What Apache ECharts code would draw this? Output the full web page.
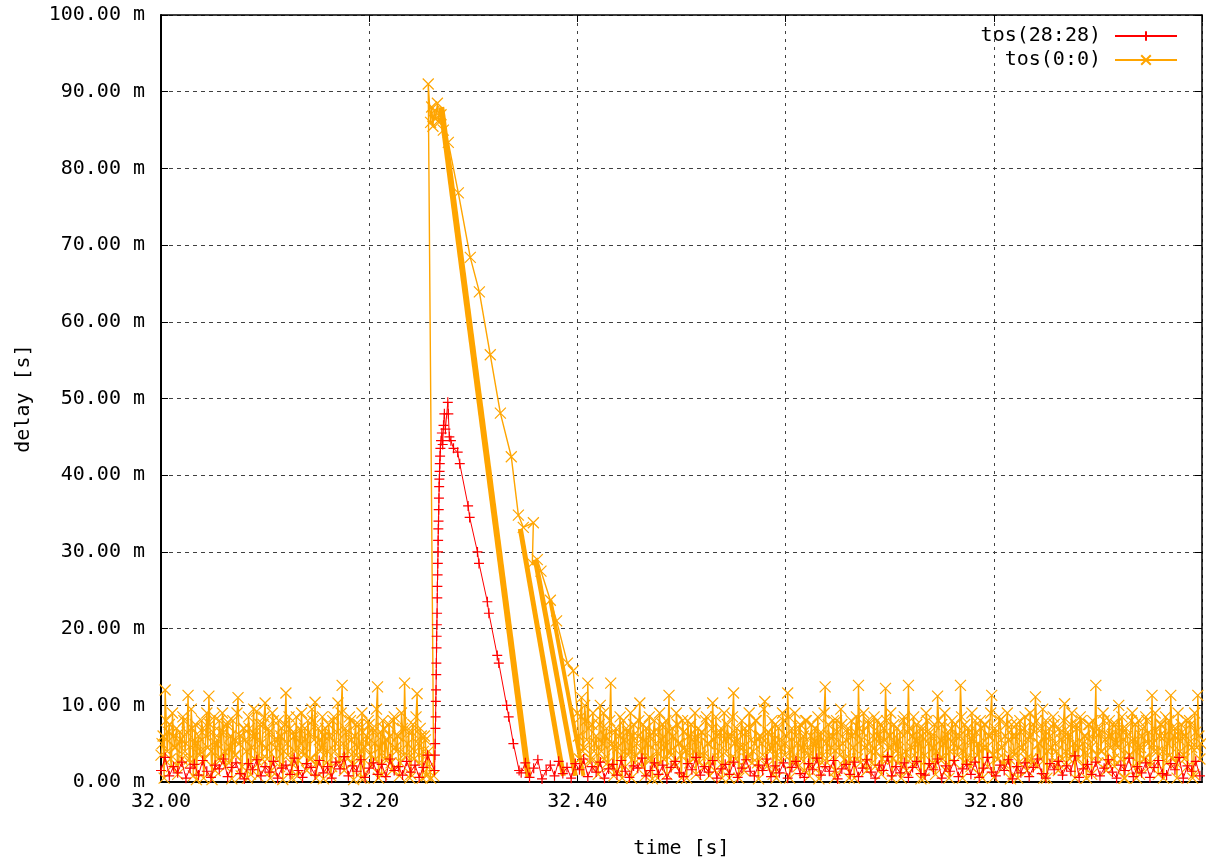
<!DOCTYPE html>
<html>
<head>
<meta charset="utf-8">
<title>delay</title>
<script src="https://cdn.jsdelivr.net/npm/echarts@6/dist/echarts.min.js"></script>
<style>
  html, body { margin: 0; padding: 0; background: #fff; }
  #chart { width: 1206px; height: 859px; }
</style>
</head>
<body>
<div id="chart"></div>
<script>
// tos(0:0) noise before the burst: even ms from 32.000 s, then odd ms from 32.001 s
const orangeBefore = [
  3.5, 6, 12, 4, 7.5, 2, 6, 4.5, 1, 6.5,
  3, 8, 5, 11.3, 2.5, 7, 5, 0.3, 6, 4,
  7, 3, 9, 11.2, 4, 6.5, 1.5, 5.5, 8, 3,
  6.5, 2, 7.8, 4.5, 0.4, 5.5, 3.5, 11, 6, 2,
  7, 4, 8.5, 1, 6, 3, 9.2, 2.5, 5, 7.5,
  10.3, 3, 6.5, 1.5, 8, 4.5, 5.5, 2, 7, 4,
  11.6, 3.5, 7, 0.5, 6, 8.5, 2.8, 5, 4, 7,
  1.5, 6.5, 3, 8, 10.4, 2.5, 5.5, 4.5, 0.4, 7,
  4, 6, 2, 8.5, 5, 10.3, 3, 12.6, 1.5, 6.5,
  4, 8, 2.5, 6, 3.5, 7.5, 0.5, 6.5, 4.5, 5,
  7.5, 2, 6.5, 3, 12.4, 4.5, 1, 7, 5.5, 3,
  6, 1.5, 8.5, 4, 6, 2.5, 7, 12.9, 3.5, 6.5,
  1, 7.5, 4, 11.5, 2.5, 6, 4, 5.5, 1, 2
];
const orangeBeforeOdd = [
  5, 0.5, 8, 6.5, 3, 9, 4.5, 7, 2.5, 5.5,
  8.5, 4, 6.5, 3, 9.5, 0.8, 7.5, 5, 3.5, 8,
  0.5, 6, 4.5, 7.5, 0.3, 8.5, 5, 3, 6.5, 9,
  4, 7.5, 2.5, 6, 8, 3.5, 9, 5, 0.8, 7,
  5.5, 0.5, 7, 4.5, 9.5, 6, 0.8, 7.5, 3, 8.5,
  4.5, 7, 0.5, 9, 5.5, 3, 8, 6, 0.3, 7.5,
  5, 8.5, 2.5, 6.5, 4, 0.8, 7, 9, 3.5, 5.5,
  8, 3, 9.5, 5.5, 0.5, 7, 4, 8.5, 6, 2.5,
  7.5, 0.8, 8, 4, 6.5, 2.5, 9, 5, 7, 3,
  8.5, 5.5, 0.3, 7.5, 4.5, 3, 9, 0.5, 6, 8,
  3.5, 7, 5, 9.5, 0.5, 6.5, 8, 3, 5.5, 7.5,
  2.5, 8, 4.5, 6, 0.8, 9, 3.5, 7, 5, 0.5,
  6.5, 3, 8.5, 5, 7, 0.5, 6, 0.8, 4, 0.5
];
// tos(0:0) around the burst: [time s, delay ms]
const orangeSpike = [
  [32.2620, 0.8], [32.2567, 91], [32.2590, 86], [32.2600, 88], [32.2612, 85.5],
  [32.2625, 87.5], [32.2640, 86.5], [32.2655, 88.5], [32.2670, 86], [32.2690, 87],
  [32.2712, 85], [32.2760, 83.4], [32.2856, 76.8], [32.2971, 68.4], [32.3058, 63.9],
  [32.3163, 55.7], [32.3260, 48.1], [32.3365, 42.4], [32.3433, 34.8], [32.3480, 33.2],
  [32.3577, 33.8], [32.3567, 28.5], [32.3615, 29], [32.3650, 27.5], [32.3740, 23.7],
  [32.3800, 21], [32.3904, 15.5], [32.3960, 14.5]
];
// drain lines of the queue after the burst: [start, end]
const orangeBand1 = [[32.2692, 88], [32.3530, 0.6]];
const orangeBand2 = [[32.3452, 33], [32.3865, 0.8]];
const orangeBand3 = [[32.3596, 29], [32.3980, 0.8]];
const orangeBand4 = [[32.3740, 23.7], [32.4058, 0.8]];
// tos(0:0) noise after the burst: even ms from 32.400 s, then odd ms from 32.401 s
const orangeAfter = [
  9, 3, 11, 4.5, 8, 12.9, 2.5, 7.5, 4, 6,
  1, 10, 5, 3, 7, 2, 12.9, 4.5, 6.5, 1.5,
  6, 3.5, 8, 2, 6.5, 4, 0.5, 7.5, 3.5, 6,
  10.3, 2, 5.5, 7, 3, 6, 0.4, 8, 4, 6.5,
  2.5, 7.5, 4.5, 1, 11.3, 3.5, 6, 2, 7.5, 5,
  0.5, 6.5, 4, 8, 2.5, 5.5, 4, 1, 7, 3.5,
  6.5, 2, 8.5, 5, 3, 10.3, 1.5, 6, 4, 7,
  2, 5.5, 7.5, 0.5, 6, 11.6, 3, 5.5, 4.5, 8,
  1.5, 6.5, 3.5, 7, 2.5, 5, 8, 0.4, 6, 3.5,
  10.5, 2, 6.5, 4.5, 1, 7.5, 3.5, 5.5, 2.5, 8,
  5, 11.6, 0.5, 7, 3, 6, 2, 7.5, 4.5, 1.5,
  8, 3.5, 6, 2, 7, 5, 0.4, 6.5, 3.5, 12.4,
  2.5, 6, 4.5, 8, 1.5, 6.5, 3.5, 7.5, 2, 5.5,
  7, 3, 6, 0.5, 8.5, 12.6, 2.5, 6.5, 4.5, 1.5,
  7.5, 4, 6, 2, 8, 5, 1, 7, 12.2, 3,
  6, 0.5, 7.5, 4, 2.5, 6.5, 3.5, 8.5, 1.5, 12.6,
  3, 6, 2, 7.5, 5, 0.4, 7, 3.5, 8, 2,
  6, 4.5, 1, 11.2, 3, 7.5, 5, 1.5, 6.5, 4,
  8, 2.5, 6, 4.5, 12.6, 0.5, 7.5, 3, 6.5, 2,
  5.5, 8, 3.5, 1, 7, 4.5, 7.5, 2, 6, 11.3,
  0.6, 6.5, 3, 8, 4.5, 2, 7.5, 5.5, 0.4, 6,
  3.5, 7.5, 2.5, 6.5, 4, 8.5, 1.5, 6, 3, 7.5,
  11.1, 2, 5, 7, 0.5, 8, 4, 6, 2.5, 7.5,
  4, 1.5, 6.5, 3, 10.2, 2, 6, 7.5, 3.5, 0.5,
  7, 4.5, 8, 2, 6, 3.5, 7.5, 1, 5.5, 12.6,
  2.5, 6.5, 4, 8, 1.5, 6, 4.5, 7.5, 2, 5,
  10, 3, 7, 0.5, 6, 3.5, 8, 2, 7.5, 4.5,
  1, 6, 3, 8.5, 5, 2, 11.3, 4, 6.5, 1,
  7.5, 4, 6, 2.5, 8, 11.3, 3, 7, 0.5, 5.5,
  7.5, 3.5, 6, 2, 8, 4.5, 1, 6.5, 11.3, 3
];
const orangeAfterOdd = [
  6, 8.5, 4, 10, 5.5, 7, 3, 9, 5, 2.5,
  7.5, 4, 9, 6, 2.5, 8, 5, 0.8, 7, 4.5,
  8.5, 0.5, 5.5, 7, 3.5, 9, 6, 2.5, 5, 8,
  4, 7.5, 0.8, 5, 8.5, 3, 6.5, 5, 0.5, 9,
  5.5, 3, 8, 6.5, 4, 7, 2.5, 9, 5, 3.5,
  8, 4.5, 0.5, 6, 7.5, 3, 9, 5.5, 2.5, 6.5,
  3.5, 8, 5, 0.8, 7, 5.5, 8.5, 3, 6.5, 0.5,
  9, 4, 6, 3, 8.5, 5, 7, 0.5, 6.5, 4.5,
  7, 3, 9, 5.5, 4, 8, 2.5, 6, 5, 9.5,
  2.5, 6.5, 4, 8, 5.5, 0.5, 7, 4.5, 9, 3.5,
  6, 8.5, 4, 2.5, 9, 5, 7, 3, 6, 8,
  4.5, 0.8, 7.5, 5, 3, 8.5, 6, 2.5, 9, 5,
  7.5, 3.5, 6, 0.5, 8, 4.5, 9.5, 5, 3, 6.5,
  0.5, 8, 4.5, 6.5, 3, 7, 5.5, 9, 2.5, 8,
  5, 2.5, 8.5, 4, 6, 7.5, 3, 5.5, 8, 4.5,
  9, 3, 5, 7, 5.5, 0.5, 8, 4, 6.5, 7,
  4.5, 8.5, 5.5, 3, 7, 6, 0.5, 9, 5, 6.5,
  2.5, 7.5, 4, 8, 5.5, 3, 9, 6, 0.5, 7,
  5, 7.5, 3.5, 6, 8.5, 4, 2.5, 7, 5.5, 9,
  3, 6.5, 5, 8, 0.5, 7.5, 4.5, 6, 9, 3.5,
  7, 4, 8.5, 5.5, 2.5, 6, 9, 3, 7.5, 4,
  6, 0.5, 8, 4.5, 7, 3, 5.5, 9, 2.5, 6.5,
  8, 5, 3, 9.5, 6, 0.5, 7, 4.5, 8.5, 5,
  2.5, 7, 5.5, 8, 4, 6.5, 3, 9, 5, 7.5,
  3, 8.5, 5, 6, 0.5, 7.5, 4.5, 8, 6.5, 3.5,
  7, 4, 9, 5.5, 2.5, 8, 6, 3, 7.5, 4.5,
  6, 8.5, 0.5, 7, 5, 3.5, 9, 5.5, 0.5, 8,
  4.5, 7, 3, 8, 6.5, 2.5, 5, 9, 4, 6,
  7.5, 0.5, 8.5, 5, 3.5, 7, 6, 2.5, 9, 4,
  6.5, 3, 8, 5, 7.5, 0.5, 9, 4.5, 6, 5
];

// tos(28:28) noise before the burst, every 4 ms from 32.000 s
const redBefore = [
  1.5, 3.2, 0.8, 2, 1.2, 2.6, 0.5, 1.8, 2.3, 0.9,
  2.8, 1.4, 0.6, 2.2, 1.7, 3, 0.7, 1.9, 2.5, 1.1,
  0.4, 2.4, 1.6, 2.9, 0.8, 2, 1.3, 2.7, 0.5, 1.8,
  2.2, 1, 3.1, 1.5, 0.6, 2.4, 1.9, 0.9, 2.8, 1.2,
  2, 0.5, 2.6, 1.7, 3.3, 0.8, 2.1, 1.4, 2.9, 0.6,
  1.8, 2.5, 1, 2.3, 0.7, 3, 1.5, 2, 0.9, 2.7,
  1.3, 2.2, 0.6, 1.9, 3.5
];
// tos(28:28) burst: [time s, delay ms]
const redSpike = [
  [32.2628, 1.5], [32.2631, 3.5], [32.2634, 5], [32.2636, 7], [32.2638, 8.5],
  [32.2640, 10.5], [32.2642, 12], [32.2644, 14], [32.2645, 15.5], [32.2647, 17.5],
  [32.2648, 19], [32.2650, 20.5], [32.2652, 22], [32.2654, 24], [32.2655, 25.5],
  [32.2657, 27], [32.2659, 28.5], [32.2661, 30], [32.2662, 31.5], [32.2664, 33],
  [32.2666, 34], [32.2668, 35.5], [32.2670, 37], [32.2672, 38.5], [32.2674, 39.5],
  [32.2676, 40.5], [32.2678, 41.5], [32.2681, 42.5], [32.2684, 43.5], [32.2690, 44.5],
  [32.2698, 45.5], [32.2706, 44], [32.2714, 46.5], [32.2722, 48], [32.2732, 46],
  [32.2755, 49.5], [32.2760, 48], [32.2770, 45], [32.2785, 44.5], [32.2810, 43.5],
  [32.2850, 43], [32.2870, 41.5], [32.2950, 36], [32.2965, 34.5], [32.3040, 30],
  [32.3055, 28.5], [32.3135, 23.5], [32.3150, 22], [32.3230, 16.5], [32.3245, 15.5],
  [32.3320, 10], [32.3340, 8.5], [32.3385, 5], [32.3440, 1.5]
];
// tos(28:28) noise after the burst, every 4 ms from 32.346 s
const redAfter = [
  1.2, 2.5, 0.6, 1.8, 2.9, 0.4, 1.5, 2.2, 0.8, 2.7,
  1.1, 1.9, 0.5, 2.4, 1.6, 3, 0.7, 2, 1.3, 2.6,
  0.5, 1.7, 2.3, 0.9, 2.8, 1.4, 0.6, 2.1, 1.8, 3.1,
  0.8, 1.5, 2.5, 1, 2.2, 0.4, 1.9, 2.7, 1.2, 0.7,
  2.4, 1.6, 3.2, 0.9, 2, 1.3, 2.8, 0.5, 1.7, 2.3,
  1, 2.6, 0.6, 1.8, 2.9, 1.4, 0.8, 2.2, 1.5, 3,
  0.7, 2.1, 1.2, 2.5, 0.5, 1.9, 2.7, 1.1, 0.6, 2.4,
  1.6, 3.1, 0.9, 2, 1.4, 2.8, 0.4, 1.7, 2.3, 1,
  2.6, 0.7, 1.8, 2.9, 1.3, 0.5, 2.2, 1.5, 3.3, 0.8,
  2, 1.2, 2.5, 0.6, 1.9, 2.7, 1.1, 0.9, 2.4, 1.6,
  3, 0.5, 2.1, 1.4, 2.8, 0.7, 1.7, 2.3, 1, 2.6,
  0.6, 1.8, 3.2, 1.3, 0.8, 2.2, 1.5, 2.9, 0.4, 2,
  1.2, 2.5, 0.7, 1.9, 3, 1.1, 0.5, 2.4, 1.6, 2.7,
  0.9, 2.1, 1.4, 3.4, 0.6, 1.7, 2.3, 1, 2.6, 0.8,
  1.8, 2.9, 1.3, 0.5, 2.2, 1.5, 3.1, 0.7, 2, 1.2,
  2.5, 0.6, 1.9, 2.8, 1.1, 0.9, 2.4, 1.6, 3.2, 0.5,
  2.1, 1.4, 2.7, 0.8
];

const RED = '#ff0000';
const ORANGE = '#ffa500';
const FONT = 'DejaVu Sans Mono';
const PLUS = 'path://M0,5L10,5M5,0L5,10';
const CROSS = 'path://M0,0L10,10M10,0L0,10';

// interleave even and odd millisecond samples in time order
function noise(even, odd, t0) {
  const out = [];
  even.forEach((v, i) => {
    out.push([t0 + i * 0.002, v]);
    out.push([t0 + 0.001 + i * 0.002, odd[i]]);
  });
  return out;
}

const orangeData = [
  ...noise(orangeBefore, orangeBeforeOdd, 32),
  ...orangeSpike,
  ...noise(orangeAfter, orangeAfterOdd, 32.4)
];
const redData = [
  ...redBefore.map((v, i) => [32 + i * 0.004, v]),
  ...redSpike,
  ...redAfter.map((v, i) => [32.346 + i * 0.004, v])
];

function band(data, width) {
  return {
    type: 'line', data: data, symbol: 'none', clip: false, silent: true,
    lineStyle: { color: ORANGE, width: width }, z: 2
  };
}

const chart = echarts.init(document.getElementById('chart'));

chart.setOption({
  animation: false,
  backgroundColor: '#fff',
  grid: { left: 161, right: 4, top: 15, bottom: 77, outerBoundsMode: 'none' },
  legend: {
    data: ['tos(28:28)', 'tos(0:0)'],
    orient: 'vertical', align: 'right',
    right: 23, top: 21,
    itemWidth: 62, itemHeight: 12, itemGap: 4,
    textStyle: { fontFamily: FONT, fontSize: 20, color: '#000', padding: [0, 9, 0, 0] }
  },
  xAxis: [{
    type: 'value', min: 32, max: 33, interval: 0.2,
    name: 'time [s]', nameLocation: 'middle', nameGap: 57,
    nameTextStyle: { fontFamily: FONT, fontSize: 20, color: '#000' },
    axisLine: { lineStyle: { color: '#000', width: 2 } },
    axisTick: { inside: true, length: 7, lineStyle: { color: '#000' } },
    axisLabel: {
      fontFamily: FONT, fontSize: 20, color: '#000', margin: 10,
      showMaxLabel: false, formatter: v => v.toFixed(2)
    },
    splitLine: { show: true, lineStyle: { color: '#404040', width: 1, type: [3, 5] } }
  }, {
    type: 'value', min: 32, max: 33, interval: 0.2, position: 'top',
    axisLine: { show: true, onZero: false, lineStyle: { color: '#000', width: 1.5 } },
    axisTick: { inside: true, length: 7, lineStyle: { color: '#000' } },
    axisLabel: { show: false }, splitLine: { show: false }
  }],
  yAxis: [{
    type: 'value', min: 0, max: 100, interval: 10,
    name: 'delay [s]', nameLocation: 'middle', nameGap: 127, nameRotate: 90,
    nameTextStyle: { fontFamily: FONT, fontSize: 20, color: '#000' },
    axisLine: { show: true, lineStyle: { color: '#000', width: 2 } },
    axisTick: { show: true, inside: true, length: 7, lineStyle: { color: '#000' } },
    axisLabel: {
      fontFamily: FONT, fontSize: 20, color: '#000', margin: 16,
      formatter: v => v.toFixed(2) + ' m'
    },
    splitLine: { show: true, lineStyle: { color: '#404040', width: 1, type: [4, 4] } }
  }, {
    type: 'value', min: 0, max: 100, interval: 10, position: 'right',
    axisLine: { show: true, onZero: false, lineStyle: { color: '#000', width: 1.5 } },
    axisTick: { show: true, inside: true, length: 7, lineStyle: { color: '#000' } },
    axisLabel: { show: false }, splitLine: { show: false }
  }],
  series: [
    band(orangeBand1, 6),
    band(orangeBand2, 5),
    band(orangeBand3, 5),
    band(orangeBand4, 4),
    {
      name: 'tos(0:0)', type: 'line', data: orangeData,
      symbol: CROSS, symbolSize: 11, showAllSymbol: true, clip: false,
      lineStyle: { color: ORANGE, width: 1.4 },
      itemStyle: { color: ORANGE, borderColor: ORANGE, borderWidth: 1.2 },
      z: 3
    },
    {
      name: 'tos(28:28)', type: 'line', data: redData,
      symbol: PLUS, symbolSize: 10, showAllSymbol: true, clip: false,
      lineStyle: { color: RED, width: 1 },
      itemStyle: { color: RED, borderColor: RED, borderWidth: 1.2 },
      z: 4
    }
  ]
});
</script>
</body>
</html>
